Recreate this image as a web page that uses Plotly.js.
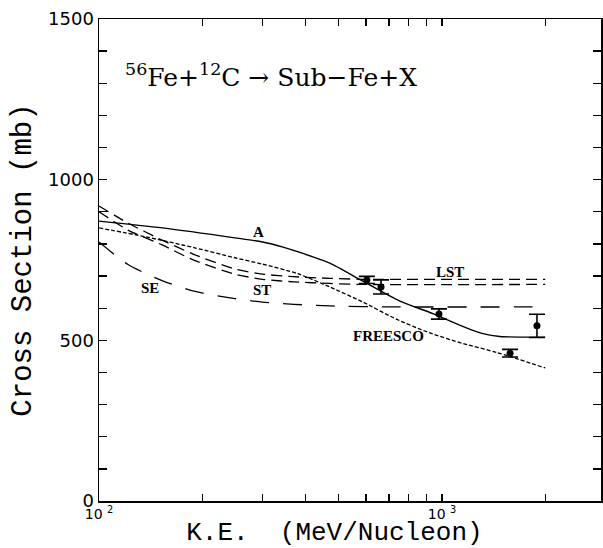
<!DOCTYPE html>
<html>
<head>
<meta charset="utf-8">
<script src="https://cdn.plot.ly/plotly-3.0.1.min.js"></script>
<style>html,body{margin:0;padding:0;background:#fff;}#chart{width:603px;height:548px;}</style>
</head>
<body>
<div id="chart"></div>
<script>
// Curve A (solid)
const energyA = [100, 153, 249, 300, 344, 420, 471, 588, 754, 941, 1183, 1317, 1476, 1700, 2000];
const sigmaA  = [871, 850, 819, 806, 790, 760, 740, 684, 622, 583, 538, 521, 512, 510, 510];
// FREESCO (dotted)
const energyFreesco = [100, 137, 190, 249, 300, 378, 471, 588, 739, 922, 1152, 1446, 2000];
const sigmaFreesco  = [850, 822, 788, 757, 737, 708, 666, 619, 565, 523, 490, 462, 414];
// LST (upper double dash)
const energyLST = [100, 121.5, 152.7, 190.5, 249, 300, 370, 471, 588, 2000];
const sigmaLST  = [918, 865, 812, 766, 722, 706, 698, 693, 690, 690];
// ST (lower double dash)
const energyST = [100, 121.5, 152.7, 190.5, 249, 300, 370, 471, 588, 2000];
const sigmaST  = [900, 843, 797, 748, 706, 690, 682, 677, 674, 674];
// SE (long dash)
const energySE = [100, 121.5, 152.7, 190.5, 249, 300, 370, 471, 700, 2000];
const sigmaSE  = [806, 736, 686, 652, 630, 619, 612, 607, 604, 604];
// Experimental points
const expEnergy = [604, 664, 980, 1579, 1892];
const expSigma  = [688, 666, 582, 460, 545];
const expError  = [11, 22, 16, 12, 36];
// Ticks
const xTickVals = [100, 200, 300, 400, 500, 600, 700, 800, 900, 1000, 2000];
const xTickText = ['10 <sup>2</sup>', '', '', '', '', '', '', '', '', '10 <sup>3</sup>', ''];
const yTickVals = [0,100,200,300,400,500,600,700,800,900,1000,1100,1200,1300,1400,1500];
const yTickText = ['0','','','','','500','','','','','1000','','','','','1500'];
// Curve labels
const labelText = ['A', 'SE', 'ST', 'LST', 'FREESCO'];
const labelE    = [291, 141, 299, 1055, 696];
const labelS    = [837, 663, 657, 713, 514];

const lineBase = {mode: 'lines', hoverinfo: 'skip', showlegend: false};
const traces = [
  Object.assign({x: energyA, y: sigmaA, line: {color: '#000', width: 1.4, shape: 'spline', smoothing: 0.7}}, lineBase),
  Object.assign({x: energyFreesco, y: sigmaFreesco, line: {color: '#000', width: 1.3, dash: '4px,2px', shape: 'spline', smoothing: 0.7}}, lineBase),
  Object.assign({x: energyLST, y: sigmaLST, line: {color: '#000', width: 1.3, dash: '11px,6px', shape: 'spline', smoothing: 0.7}}, lineBase),
  Object.assign({x: energyST, y: sigmaST, line: {color: '#000', width: 1.3, dash: '11px,6px', shape: 'spline', smoothing: 0.7}}, lineBase),
  Object.assign({x: energySE, y: sigmaSE, line: {color: '#000', width: 1.3, dash: '19px,14px', shape: 'spline', smoothing: 0.7}}, lineBase),
  {x: expEnergy, y: expSigma, mode: 'markers', showlegend: false,
   marker: {color: '#000', size: 7},
   error_y: {type: 'data', array: expError, visible: true, color: '#000', thickness: 1.6, width: 8}}
];

const annotations = labelText.map((t, i) => ({
  x: Math.log10(labelE[i]), y: labelS[i], xref: 'x', yref: 'y', text: t, showarrow: false,
  font: {family: 'Liberation Serif', size: 15, color: '#000', weight: 'bold'}
}));
annotations.push({
  xref: 'paper', yref: 'paper', x: 0.048, y: 0.883, xanchor: 'left', yanchor: 'middle', showarrow: false,
  text: '<sup>56</sup>Fe+<sup>12</sup>C \u2192 Sub\u2212Fe+X',
  font: {family: 'DejaVu Serif', size: 25, color: '#000'}
});

const axisCommon = {
  showline: true, linecolor: '#000', linewidth: 1.5, mirror: 'allticks',
  ticks: 'inside', tickcolor: '#000', tickwidth: 1.3, showgrid: false, zeroline: false
};

const layout = {
  width: 603, height: 548,
  margin: {l: 99, r: 2, t: 19, b: 47},
  paper_bgcolor: '#fff', plot_bgcolor: '#fff',
  showlegend: false,
  xaxis: Object.assign({}, axisCommon, {
    type: 'log', range: [2, 3.4636], tickmode: 'array', tickvals: xTickVals, ticktext: xTickText,
    ticklen: 7, tickfont: {family: 'DejaVu Sans', size: 14, color: '#000'},
    title: {text: 'K.E.  (MeV/Nucleon)&nbsp;&nbsp;', font: {family: 'Liberation Mono', size: 26, color: '#000'}, standoff: 2},
    automargin: false
  }),
  yaxis: Object.assign({}, axisCommon, {
    range: [0, 1500], tickmode: 'array', tickvals: yTickVals, ticktext: yTickText,
    ticklen: 8, tickfont: {family: 'DejaVu Sans', size: 18, color: '#000'},
    title: {text: 'Cross Section (mb)', font: {family: 'Liberation Mono', size: 29, color: '#000'}, standoff: 8},
    automargin: false
  }),
  annotations: annotations
};

Plotly.newPlot('chart', traces, layout, {displayModeBar: false, staticPlot: true});
</script>
</body>
</html>
